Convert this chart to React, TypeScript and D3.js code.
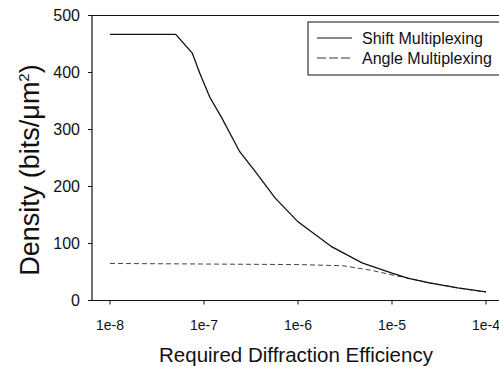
import React from "react";
import * as d3 from "d3";

const shiftX = [1e-8, 5e-8, 7.5e-8, 9e-8, 1.15e-7, 1.55e-7, 2.4e-7, 3.6e-7, 5.7e-7, 1e-6, 2.3e-6, 4.8e-6, 1e-5, 1.5e-5, 2.5e-5, 5e-5, 1e-4];
const shiftY = [467, 467, 434, 399, 357, 320, 261, 224, 180, 138, 94, 66, 48, 39, 31, 22, 15];
const angleX = [1e-8, 1e-7, 1e-6, 3e-6, 6e-6, 1e-5, 1.5e-5, 2.5e-5, 5e-5, 1e-4];
const angleY = [65, 64, 63, 61, 53, 45, 39, 31, 22, 15];
const xTicks = [1e-8, 1e-7, 1e-6, 1e-5, 1e-4];
const xTickLabels = ["1e-8", "1e-7", "1e-6", "1e-5", "1e-4"];
const yTicks = [0, 100, 200, 300, 400, 500];
const seriesNames = ["Shift Multiplexing", "Angle Multiplexing"];

const W = 499, H = 366;
const FONT = "'Liberation Sans', Arial, Helvetica, sans-serif";

export default function App() {
  const x = d3.scaleLog().domain([1e-8, 1e-4]).range([110, 486]);
  const y = d3.scaleLinear().domain([0, 500]).range([300.5, 15.5]);
  const line = d3.line<[number, number]>().x(d => x(d[0])).y(d => y(d[1]));
  const shift = shiftX.map((v, i) => [v, shiftY[i]] as [number, number]);
  const angle = angleX.map((v, i) => [v, angleY[i]] as [number, number]);
  const left = 92, right = 499;
  return (
    <svg width={W} height={H} style={{ position: "absolute", left: 0, top: 0, background: "#fff" }} fontFamily={FONT}>
      <rect width={W} height={H} fill="#fff" />
      <line x1={left} x2={right} y1={y(500)} y2={y(500)} stroke="#111" strokeWidth={1.2} />
      <line x1={left} x2={right} y1={y(0)} y2={y(0)} stroke="#111" strokeWidth={1.2} />
      <line x1={left} x2={left} y1={y(500)} y2={y(0)} stroke="#111" strokeWidth={1.2} />
      {yTicks.map(t => (
        <g key={t}>
          <line x1={left - 4} x2={left} y1={y(t)} y2={y(t)} stroke="#111" />
          <text x={80} y={y(t)} dy="0.36em" textAnchor="end" fontSize={16} fill="#111">{t}</text>
        </g>
      ))}
      {xTicks.map((t, i) => (
        <g key={i}>
          <line x1={x(t)} x2={x(t)} y1={y(0)} y2={y(0) + 4} stroke="#111" />
          <text x={x(t)} y={330} textAnchor="middle" fontSize={14} fill="#111">{xTickLabels[i]}</text>
        </g>
      ))}
      <path d={line(angle) || ""} fill="none" stroke="#444" strokeWidth={1} strokeDasharray="5,3" />
      <path d={line(shift) || ""} fill="none" stroke="#111" strokeWidth={1.3} />
      <rect x={308} y={22} width={200} height={53} fill="#fff" stroke="#111" strokeWidth={1} />
      <line x1={317} x2={352} y1={38} y2={38} stroke="#111" strokeWidth={1.2} />
      <line x1={317} x2={352} y1={58} y2={58} stroke="#333" strokeWidth={1} strokeDasharray="9,3" />
      <text x={362} y={38} dy="0.36em" fontSize={16} fill="#111">{seriesNames[0]}</text>
      <text x={362} y={58} dy="0.36em" fontSize={16} fill="#111">{seriesNames[1]}</text>
      <text x={296} y={362} textAnchor="middle" fontSize={20.5} fill="#111">Required Diffraction Efficiency</text>
      <text transform="translate(39,170) rotate(-90)" textAnchor="middle" fontSize={27} fill="#111">
        Density (bits/μm<tspan dy="-10" fontSize={15}>2</tspan><tspan dy="10">)</tspan>
      </text>
    </svg>
  );
}
